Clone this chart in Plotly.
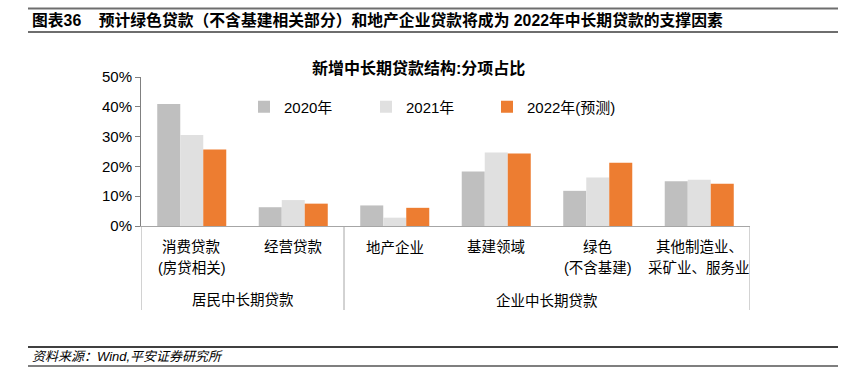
import plotly.graph_objects as go

categories = ["消费贷款<br>(房贷相关)", "经营贷款", "地产企业", "基建领域", "绿色<br>(不含基建)", "其他制造业、<br>采矿业、服务业"]
groups = ["居民中长期贷款", "企业中长期贷款"]
series_names = ["2020年", "2021年", "2022年(预测)"]
v2020 = [0.409, 0.063, 0.069, 0.183, 0.118, 0.150]
v2021 = [0.305, 0.087, 0.028, 0.247, 0.163, 0.155]
v2022 = [0.257, 0.075, 0.061, 0.243, 0.212, 0.142]
colors = ["#BFBFBF", "#E0E0E0", "#ED7D31"]
yticks = [0, 0.1, 0.2, 0.3, 0.4, 0.5]
ytick_text = ["0%", "10%", "20%", "30%", "40%", "50%"]

CJK = "Liberation Sans, Noto Sans CJK SC, sans-serif"

W, H = 841, 377
L, R, T, B = 141, 91, 77, 151
ph = H - T - B

def py(pix):
    return (H - B - pix) / ph

def px(pix):
    return (pix - L) / (W - L - R)

fig = go.Figure()
xs = list(range(len(categories)))
legend_ids = ["legend", "legend2", "legend3"]
legend_text_x = [284, 406, 527]
for name, vals, c, lid in zip(series_names, [v2020, v2021, v2022], colors, legend_ids):
    fig.add_trace(go.Bar(x=xs, y=vals, name=name, legend=lid,
                         marker=dict(color=c, line=dict(width=0))))

legend_common = dict(orientation="h", yanchor="middle", xanchor="left",
                     font=dict(size=15, family=CJK), bgcolor="rgba(0,0,0,0)", borderwidth=0)
fig.update_layout(**{lid: dict(x=px(tx - 40), y=py(107), **legend_common)
                     for lid, tx in zip(legend_ids, legend_text_x)})

fig.update_layout(
    width=W, height=H,
    margin=dict(l=L, r=R, t=T, b=B, pad=0),
    paper_bgcolor="white", plot_bgcolor="white",
    barmode="group", bargap=0.32, bargroupgap=0,
    font=dict(family=CJK, size=14, color="#000000"),
    showlegend=True,
    xaxis=dict(tickmode="array", tickvals=xs, range=[-0.5, 5.5], showticklabels=False,
               showline=True, linecolor="#A6A6A6", linewidth=1, ticks="", showgrid=False,
               zeroline=False),
    yaxis=dict(range=[0, 0.5], tickvals=yticks, ticktext=ytick_text, showgrid=False,
               showline=True, linecolor="#808080", linewidth=1, ticks="outside", ticklen=5,
               tickcolor="#808080", tickfont=dict(size=15, family=CJK), zeroline=False),
)

shapes = []
for xb in [-0.5, 1.5, 5.5]:
    shapes.append(dict(type="line", xref="x", yref="paper", x0=xb, x1=xb, y0=0, y1=py(310),
                       line=dict(color="#A6A6A6", width=1)))
# header and footer rules
shapes.append(dict(type="line", xref="paper", yref="paper", x0=px(28), x1=px(838), y0=py(8.5), y1=py(8.5),
                   line=dict(color="#6E6E6E", width=2)))
shapes.append(dict(type="line", xref="paper", yref="paper", x0=px(28), x1=px(838), y0=py(32), y1=py(32),
                   line=dict(color="#6E6E6E", width=2)))
shapes.append(dict(type="line", xref="paper", yref="paper", x0=px(28), x1=px(838), y0=py(347), y1=py(347),
                   line=dict(color="#000000", width=1.5)))
shapes.append(dict(type="line", xref="paper", yref="paper", x0=px(28), x1=px(838), y0=py(366), y1=py(366),
                   line=dict(color="#555555", width=1.5)))
fig.update_layout(shapes=shapes)

ann = []
ann.append(dict(text="<b>图表36    预计绿色贷款（不含基建相关部分）和地产企业贷款将成为 2022年中长期贷款的支撑因素</b>",
                xref="paper", yref="paper", x=px(30), y=py(20), xanchor="left", yanchor="middle",
                showarrow=False, font=dict(size=15.8, family=CJK, color="#000000")))
ann.append(dict(text="<b>新增中长期贷款结构:分项占比</b>", xref="paper", yref="paper", x=px(418), y=py(68),
                xanchor="center", yanchor="middle", showarrow=False,
                font=dict(size=16, family=CJK, color="#000000")))
row_y = [247, 268]
for xi, cat in zip(xs, categories):
    for line, ry in zip(cat.split("<br>"), row_y):
        ann.append(dict(text=line, xref="x", yref="paper", x=xi, y=py(ry), xanchor="center",
                        yanchor="middle", showarrow=False, font=dict(size=14.5, family=CJK)))
for gx, g in zip([0.5, 3.5], groups):
    ann.append(dict(text=g, xref="x", yref="paper", x=gx, y=py(300), xanchor="center", yanchor="middle",
                    showarrow=False, font=dict(size=14.5, family=CJK)))
ann.append(dict(text="<i>资料来源：Wind,平安证券研究所</i>", xref="paper", yref="paper", x=px(30), y=py(356.5),
                xanchor="left", yanchor="middle", showarrow=False,
                font=dict(size=13, family=CJK, color="#000000")))
fig.update_layout(annotations=ann)

fig.write_html("out.html", config={"displayModeBar": False},
               post_script="document.body.style.margin='0';document.body.style.padding='0';")
